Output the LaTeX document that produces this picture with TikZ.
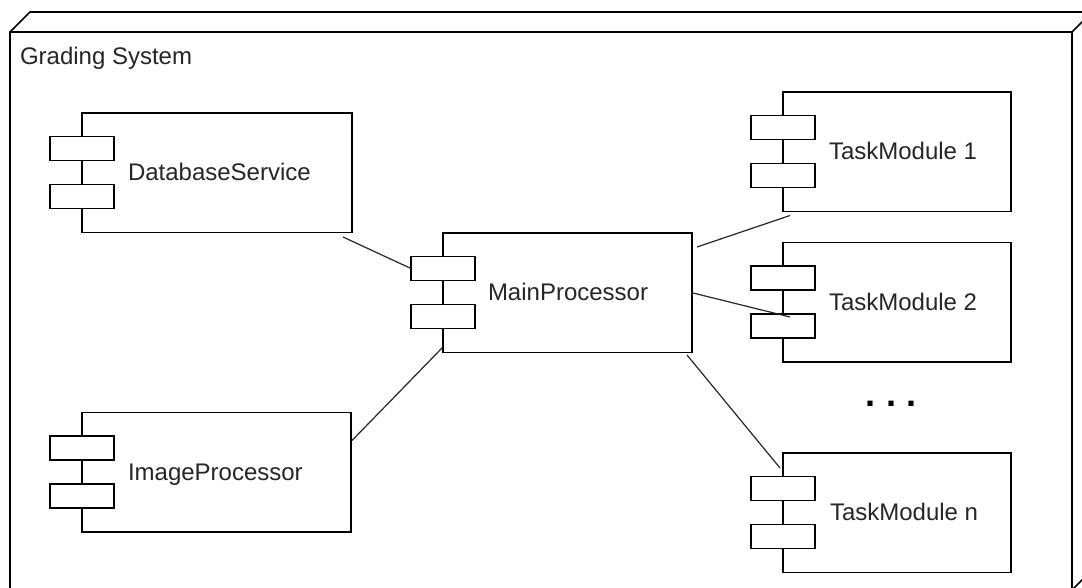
\documentclass[tikz,border=0pt]{standalone}
\usepackage{fontspec}
\setmainfont{Liberation Sans}
\usetikzlibrary{calc}

\tikzset{
  frame/.style={draw=black, line width=1.6pt, line join=miter},
  comp/.style={draw=black, fill=white, line width=1.6pt, minimum width=#1,
    minimum height=119.5pt, inner sep=0pt, outer sep=0pt, anchor=north west},
  portbox/.style={draw=black, fill=white, line width=1.6pt, minimum width=64pt,
    minimum height=24pt, inner sep=0pt, outer sep=0pt},
  wire/.style={draw=black!85, line width=1.2pt},
  lbl/.style={text=black!85, font=\fontsize{24}{28}\selectfont, inner sep=0pt,
    outer sep=0pt, anchor=base west},
}

% UML component: name, left x, top y, width, label offset, label text
\newcommand\umlcomponent[6]{%
  \node[comp=#4] (#1) at (#2,#3) {};
  \node[portbox] (#1-p1) at ([shift={(0,35.5)}]#1.north west) {};
  \node[portbox] (#1-p2) at ([shift={(0,83.5)}]#1.north west) {};
  \node[lbl] (#1-label) at ([shift={(#5,8)}]#1.west) {#6};
}

\begin{document}
\begin{tikzpicture}[x=1pt, y=-1pt]
\useasboundingbox (0,0) rectangle (1082,588);
\fill[white] (0,0) rectangle (1082,588);
\begin{scope}
  \clip (0,0) rectangle (1082,588);
  % deployment node: front face with top and right faces
  \node[frame, minimum width=1062pt, minimum height=558pt, inner sep=0pt,
        outer sep=0pt, anchor=north west] (gs) at (10,32) {};
  \draw[frame] (gs.north west) -- ++(20,-20)
        -- ([shift={(20,-20)}]gs.north east) -- (gs.north east);
  \draw[frame] ([shift={(20,-20)}]gs.north east)
        -- ([shift={(20,-20)}]gs.south east) -- (gs.south east);
\end{scope}
\node[lbl] (gs-label) at (20,65) {Grading System};

% components
\umlcomponent{db}{82}{113}{270pt}{46}{DatabaseService}
\umlcomponent{ip}{82}{412.5}{269pt}{46}{ImageProcessor}
\umlcomponent{mp}{443}{233}{249pt}{45}{MainProcessor}
\umlcomponent{tm1}{783}{92}{228pt}{46}{TaskModule 1}
\umlcomponent{tm2}{783}{242.5}{228pt}{46}{TaskModule 2}
\umlcomponent{tmn}{783}{453}{228pt}{47}{TaskModule n}

% connectors
\draw[wire] ([shift={(-9,4.5)}]db.south east) -- (mp-p1.west);
\draw[wire] ([shift={(1,28)}]ip.north east) -- ([shift={(0,-5.5)}]mp.south west);
\draw[wire] ([shift={(5,14)}]mp.north east) -- ([shift={(7,4)}]tm1.south west);
\draw[wire] (mp.east) -- ([shift={(7,3)}]tm2-p2.north);
\draw[wire] ([shift={(-5,2.5)}]mp.south east) -- ([shift={(-3,15)}]tmn.north west);

% ellipsis between the task modules
\node[font=\fontsize{36}{40}\selectfont\bfseries, text=black, inner sep=0pt] (dots)
  at (891,404) {.\kern10.3pt.\kern10.3pt.};
\end{tikzpicture}
\end{document}
